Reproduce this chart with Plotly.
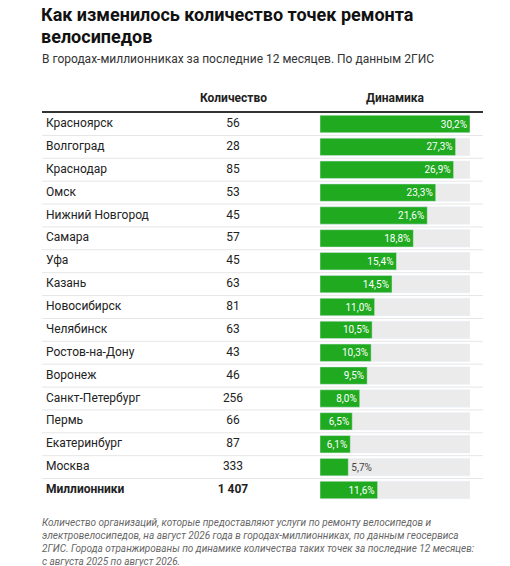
import plotly.graph_objects as go

cities = ["Красноярск","Волгоград","Краснодар","Омск","Нижний Новгород","Самара","Уфа","Казань",
          "Новосибирск","Челябинск","Ростов-на-Дону","Воронеж","Санкт-Петербург","Пермь","Екатеринбург","Москва","Миллионники"]
counts = ["56","28","85","53","45","57","45","63","81","63","43","46","256","66","87","333","1 407"]
growth = [30.2,27.3,26.9,23.3,21.6,18.8,15.4,14.5,11.0,10.5,10.3,9.5,8.0,6.5,6.1,5.7,11.6]

OFF = 8  # page body margin
W, H = 510 - OFF, 566 - OFF
X = lambda x: x - OFF
y0, step = 124 - OFF, 22.875
n = len(cities)
idx = list(range(n))
yr = [(H - y0) / step, -y0 / step]
maxv = max(growth)
F = "Roboto"

fig = go.Figure()
fig.add_trace(go.Bar(y=idx, x=[maxv]*n, orientation="h", marker_color="#ebebeb", width=0.76,
                     hoverinfo="skip", xaxis="x", yaxis="y"))
labels = [f"{v:.1f}%".replace(".", ",") for v in growth]
pos = ["outside" if v < 6 else "inside" for v in growth]
cols = ["#444444" if v < 6 else "white" for v in growth]
fig.add_trace(go.Bar(y=idx, x=growth, orientation="h", marker_color="#1faa1f", width=0.76,
                     text=labels, textposition=pos, insidetextanchor="end", cliponaxis=False,
                     constraintext="none",
                     textfont=dict(color=cols, size=10, family=F), hoverinfo="skip",
                     xaxis="x", yaxis="y"))
names = [f"<b>{c}</b>" if c == "Миллионники" else c for c in cities]
cnts = [f"<b>{c}</b>" if i == n-1 else c for i, c in enumerate(counts)]
fig.add_trace(go.Scatter(x=[X(46)]*n, y=idx, mode="text", text=names, textposition="middle right",
                         textfont=dict(size=12, color="#222", family=F), xaxis="x2", yaxis="y", hoverinfo="skip"))
fig.add_trace(go.Scatter(x=[X(233)]*n, y=idx, mode="text", text=cnts, textposition="middle center",
                         textfont=dict(size=12, color="#222", family=F), xaxis="x2", yaxis="y", hoverinfo="skip"))

shapes = [dict(type="line", xref="paper", yref="paper", x0=X(42)/W, x1=X(483)/W,
               y0=1-X(112)/H, y1=1-X(112)/H, line=dict(color="#333", width=2))]
for i in range(n-1):
    shapes.append(dict(type="line", xref="paper", yref="y", x0=X(42)/W, x1=X(483)/W, y0=i+0.5, y1=i+0.5,
                       line=dict(color="#e6e6e6", width=1), layer="below"))

def ann(x, y, t, size, color="#222", anchor="left", bold=False, italic=False):
    if bold: t = f"<b>{t}</b>"
    if italic: t = f"<i>{t}</i>"
    return dict(xref="paper", yref="paper", x=X(x)/W, y=1-X(y)/H, text=t, showarrow=False, xanchor=anchor,
                yanchor="middle", align="left", font=dict(size=size, color=color, family=F))

anns = [
    ann(39, 15, "Как изменилось количество точек ремонта", 18, "#111", bold=True),
    ann(39, 36, "велосипедов", 18, "#111", bold=True),
    ann(40, 59, "В городах-миллионниках за последние 12 месяцев. По данным 2ГИС", 12, "#333"),
    ann(233, 98, "Количество", 12, "#222", "center", bold=True),
    ann(395, 98, "Динамика", 12, "#222", "center", bold=True),
]
foot = ["Количество организаций, которые предоставляют услуги по ремонту велосипедов и",
        "электровелосипедов, на август 2026 года в городах-миллионниках, по данным геосервиса",
        "2ГИС. Города отранжированы по динамике количества таких точек за последние 12 месяцев:",
        "с августа 2025 по август 2026."]
for k, line in enumerate(foot):
    anns.append(ann(40, 522 + k*13, line, 10, "#666", italic=True))

fig.update_layout(
    width=W, height=H, margin=dict(l=0, r=0, t=0, b=0), paper_bgcolor="white", plot_bgcolor="rgba(0,0,0,0)",
    barmode="overlay", showlegend=False, shapes=shapes, annotations=anns,
    xaxis=dict(domain=[X(320)/W, X(470)/W], range=[0, maxv], visible=False, fixedrange=True, anchor="y"),
    xaxis2=dict(domain=[0, 1], range=[0, W], visible=False, anchor="y"),
    yaxis=dict(domain=[0, 1], range=yr, visible=False),
)
fig.write_html("out.html")
